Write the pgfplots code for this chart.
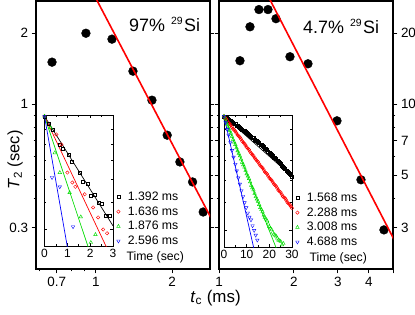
\documentclass[border=0pt]{standalone}
\usepackage{fontspec}
\setmainfont{Liberation Sans}
\usepackage{pgfplots}
\pgfplotsset{compat=1.18}
\pgfkeys{/pgf/number format/assume math mode=true}
\definecolor{mygreen}{RGB}{0,220,0}
\pgfplotsset{
 mainax/.style={scale only axis, width=174bp, height=268bp,
   axis line style={line width=1.4bp}, every tick/.style={black, line width=0.9bp},
   tick align=outside, major tick length=4.5bp, minor tick length=2.5bp,
   tick label style={font=\fontsize{13.5}{15}\selectfont},
   clip mode=individual, anchor=south west},
 inset/.style={scale only axis, axis background/.style={fill=white},
   axis line style={line width=0.8bp}, every tick/.style={black, line width=0.6bp},
   tick align=inside, major tick length=3bp, minor tick length=2bp,
   tick label style={font=\fontsize{12}{13}\selectfont},
   ymin=0.35, ymax=1.01, ytick={0.4}, minor ytick={0.5,0.6,0.7,0.8,0.9}, yticklabels={},
   anchor=south west, minor x tick num=1,
   legend cell align=left,
   legend style={at={(rel axis cs:1,0)}, anchor=south west, xshift=3.5bp, yshift=-1bp,
     draw=none, fill=none, font=\fontsize{12.3}{13}\selectfont, row sep=3bp, inner sep=0pt,
     nodes={inner sep=0.8bp}},
   xlabel style={at={(rel axis cs:1,0)}, anchor=base west, yshift=-14bp, font=\fontsize{12.3}{13}\selectfont}},
 imark/.style={only marks, mark options={line width=0.45bp},
   legend image code/.code={\node[draw=none, fill=none, inner sep=0pt, minimum width=8bp, minimum height=4bp] at (4bp,0bp) {};
     \draw[mark repeat=1,##1] plot coordinates {(3.5bp,0bp)};}},
 fitl/.style={line width=0.7bp, forget plot}
}
\begin{document}
\begin{tikzpicture}
\path[use as bounding box] (0bp,0bp) rectangle (415bp,315bp);

% ---------- left main panel ----------
\begin{loglogaxis}[mainax, at={(36bp,46bp)}, xmin=0.58, xmax=2.82, ymin=0.2, ymax=2.74,
  xtick={0.7,1,2}, xticklabels={0.7,1,2}, minor xtick={0.6,0.8,0.9},
  ytick={0.3,1,2}, yticklabels={0.3,1,2}, minor ytick={0.4,0.5,0.6,0.7,0.8,0.9}]
\addplot[only marks, mark=*, mark size=4.4bp, black] coordinates {
 (0.671,1.508) (0.913,2.00) (1.157,1.888) (1.400,1.381) (1.664,1.040)
 (1.911,0.739) (2.145,0.569) (2.407,0.468) (2.651,0.349)};
\addplot[red, line width=1.6bp] coordinates {(1.0,2.81) (2.9,0.317)};
\end{loglogaxis}

% ---------- right main panel ----------
\begin{loglogaxis}[mainax, at={(219bp,46bp)}, xmin=1, xmax=5, ymin=2, ymax=27.4,
  xtick={1,2,3,4}, xticklabels={1,2,3,4}, extra x ticks={5}, extra x tick labels={},
  ytick={3,5,7,10,20}, yticklabels={3,5,7,10,20}, minor ytick={4,6,8,9},
  yticklabel pos=right]
\addplot[only marks, mark=*, mark size=4.4bp, black] coordinates {
 (1.214,15.29) (1.332,21.3) (1.447,25.2) (1.573,25.2) (1.694,23.05)
 (1.928,15.9) (2.277,14.84) (2.978,8.50) (3.718,4.78) (4.599,2.93)};
\addplot[red, line width=1.6bp] coordinates {(1.55,29.7) (5.1,2.61)};
\end{loglogaxis}

% ---------- left inset ----------
\begin{semilogyaxis}[inset, at={(44.5bp,69bp)}, width=68.5bp, height=131bp, xmin=0, xmax=3,
  xtick={0,1,2,3}, xlabel={Time (sec)}, xlabel style={xshift=10bp}]
\addplot[imark, mark=square, mark size=1.5bp, black] coordinates {
 (0,1) (0.20,0.943) (0.36,0.899) (0.68,0.796) (0.82,0.771) (1.04,0.735) (1.19,0.692)
 (1.53,0.632) (1.67,0.589) (1.88,0.580) (2.04,0.525) (2.18,0.532) (2.36,0.497)
 (2.51,0.494) (2.70,0.446) (2.84,0.446)};
\addlegendentry{1.392 ms}
\addplot[imark, mark=o, mark size=1.7bp, red] coordinates {
 (0,1) (0.52,0.863) (0.74,0.796) (1.00,0.634) (1.22,0.585) (1.35,0.565) (1.76,0.532)
 (2.13,0.478) (2.35,0.441) (2.57,0.400) (2.74,0.388)};
\addlegendentry{1.636 ms}
\addplot[imark, mark=triangle, mark size=2bp, mygreen] coordinates {
 (0,1) (0.27,0.91) (0.45,0.744) (0.67,0.634) (1.10,0.539) (1.59,0.443) (2.03,0.360) (2.23,0.384)};
\addlegendentry{1.876 ms}
\addplot[imark, mark=triangle, mark size=2bp, mark options={rotate=180}, blue] coordinates {
 (0,1) (0.33,0.609) (0.67,0.565) (1.25,0.409)};
\addlegendentry{2.596 ms}
\addplot[fitl, black] coordinates {(0,1) (3,0.412)};
\addplot[fitl, red] coordinates {(0,1) (3,0.31)};
\addplot[fitl, mygreen] coordinates {(0,1) (3,0.19)};
\addplot[fitl, blue] coordinates {(0,1) (1.5,0.205)};
\end{semilogyaxis}

% ---------- right inset ----------
\begin{semilogyaxis}[inset, at={(224bp,68bp)}, width=68bp, height=132bp, xmin=0, xmax=30,
  xtick={0,10,20,30}, xlabel={Time (sec)}, xlabel style={xshift=14bp}]
\addplot[imark, mark=square, mark size=1.5bp, black] coordinates {
 (0,1) (1,0.988) (2,0.972) (3,0.964) (4,0.948) (5,0.939) (6,0.923) (7,0.914) (8,0.897)
 (9,0.889) (10,0.873) (11,0.865) (12,0.849) (13,0.840) (14,0.824) (15,0.815) (16,0.798)
 (17,0.790) (18,0.773) (19,0.764) (20,0.746) (21,0.737) (22,0.719) (23,0.709) (24,0.692)
 (25,0.682) (26,0.665) (27,0.656) (28,0.640) (29,0.631) (30,0.617)
 (0.5,0.993) (1.5,0.981) (2.5,0.967) (3.5,0.955) (4.5,0.944) (5.5,0.930) (6.5,0.918)
 (7.5,0.905) (8.5,0.892) (9.5,0.880) (10.5,0.868) (11.5,0.856) (12.5,0.844) (13.5,0.831)
 (14.5,0.819) (15.5,0.806) (16.5,0.793) (17.5,0.781) (18.5,0.768) (19.5,0.755) (20.5,0.742)
 (21.5,0.728) (22.5,0.714) (23.5,0.700) (24.5,0.687) (25.5,0.673) (26.5,0.660) (27.5,0.648)
 (28.5,0.635) (29.5,0.623)};
\addlegendentry{1.568 ms}
\addplot[imark, mark=o, mark size=1.7bp, red] coordinates {
 (0,1) (1,0.978) (2,0.950) (3,0.931) (4,0.904) (5,0.886) (6,0.861) (7,0.844) (8,0.819)
 (9,0.803) (10,0.780) (11,0.765) (12,0.742) (13,0.728) (14,0.707) (15,0.693) (16,0.673)
 (17,0.660) (18,0.640) (19,0.629) (20,0.609) (21,0.598) (22,0.580) (23,0.570) (24,0.552)
 (25,0.543) (26,0.525) (27,0.517) (28,0.500) (29,0.492) (30,0.478)
 (0.5,0.988) (1.5,0.963) (2.5,0.941) (3.5,0.917) (4.5,0.896) (5.5,0.873) (6.5,0.852)
 (7.5,0.832) (8.5,0.811) (9.5,0.792) (10.5,0.772) (11.5,0.753) (12.5,0.735) (13.5,0.717)
 (14.5,0.700) (15.5,0.683) (16.5,0.666) (17.5,0.650) (18.5,0.635) (19.5,0.619) (20.5,0.604)
 (21.5,0.589) (22.5,0.575) (23.5,0.561) (24.5,0.547) (25.5,0.534) (26.5,0.521) (27.5,0.509)
 (28.5,0.496) (29.5,0.485)};
\addlegendentry{2.288 ms}
\addplot[imark, mark=triangle, mark size=2bp, mygreen] coordinates {
 (0,1) (1,0.955) (2,0.910) (3,0.873) (4,0.830) (5,0.797) (6,0.757) (7,0.727) (8,0.691)
 (9,0.664) (10,0.630) (11,0.606) (12,0.574) (13,0.553) (14,0.524) (15,0.505) (16,0.480)
 (17,0.464) (18,0.444) (19,0.432) (20,0.412) (21,0.402) (22,0.388) (23,0.382) (24,0.370)
 (25,0.366) (25.6,0.356) (26.2,0.360)
 (0.5,0.978) (1.5,0.933) (2.5,0.892) (3.5,0.851) (4.5,0.813) (5.5,0.776) (6.5,0.742)
 (7.5,0.709) (8.5,0.677) (9.5,0.647) (10.5,0.618) (11.5,0.590) (12.5,0.563) (13.5,0.538)
 (14.5,0.514) (15.5,0.492) (16.5,0.472) (17.5,0.452) (18.5,0.438) (19.5,0.421) (20.5,0.407)
 (21.5,0.394) (22.5,0.385) (23.5,0.376) (24.5,0.368)};
\addlegendentry{3.008 ms}
\addplot[imark, mark=triangle, mark size=2bp, mark options={rotate=180}, blue] coordinates {
 (0,1) (0.7,0.95) (1.4,0.90) (2,0.86) (2.8,0.81) (3.5,0.76) (4.2,0.72) (5,0.68) (5.6,0.645)
 (6.3,0.61) (7,0.58) (7.7,0.55) (8.4,0.525) (9.1,0.50) (9.8,0.48) (10.5,0.46) (11.2,0.445)
 (11.9,0.435) (12.6,0.415) (13.3,0.40) (14,0.385) (14.7,0.37)};
\addlegendentry{4.688 ms}
\addplot[fitl, black] coordinates {(0,1) (30,0.617)};
\addplot[fitl, red] coordinates {(0,1) (30,0.478)};
\addplot[fitl, mygreen] coordinates {(0,1) (30,0.252)};
\addplot[fitl, blue] coordinates {(0,1) (20,0.1995)};
\end{semilogyaxis}

% ---------- texts ----------
\node[anchor=base west, font=\fontsize{18}{20}\selectfont, inner sep=0pt] at (129bp,283bp)
  {97\%\hspace{6bp}\raisebox{7bp}{\fontsize{10.5}{11}\selectfont 29}\hspace{1.5bp}Si};
\node[anchor=base west, font=\fontsize{18}{20}\selectfont, inner sep=0pt] at (303bp,281bp)
  {4.7\%\hspace{6bp}\raisebox{7bp}{\fontsize{10.5}{11}\selectfont 29}\hspace{1.5bp}Si};
\node[font=\fontsize{17}{19}\selectfont, inner sep=0pt] at (215.5bp,17bp)
  {\textit{t}\textsubscript{c} (ms)};
\node[rotate=90, font=\fontsize{16.5}{18}\selectfont, inner sep=0pt] at (15bp,155bp)
  {\textit{T}\textsubscript{2} (sec)};
\end{tikzpicture}
\end{document}
